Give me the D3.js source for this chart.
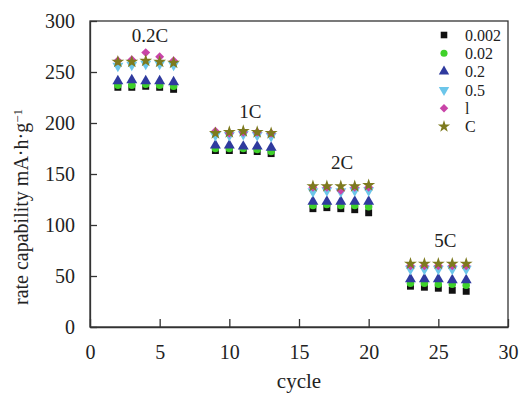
<!DOCTYPE html>
<html>
<head>
<meta charset="utf-8">
<script src="https://cdn.jsdelivr.net/npm/d3@7"></script>
<style>
  body { margin: 0; background: #fff; }
  text { font-family: "Liberation Serif", "DejaVu Serif", serif; fill: #222; }
</style>
</head>
<body>
<script>
var w = 522;
var h = 394;

// cycle numbers of each rate block
var cycles = [2, 3, 4, 5, 6, 9, 10, 11, 12, 13, 16, 17, 18, 19, 20, 23, 24, 25, 26, 27];

// series names (legend)
var seriesNames = ["0.002", "0.02", "0.2", "0.5", "l", "C"];

// capacity values, one per cycle
var s0002 = [235, 235, 236, 235, 233, 173, 173, 173, 172, 170, 116, 117, 116, 115, 112, 40, 39, 38, 36, 35];
var s002 = [237, 237, 238, 237, 236, 175, 175, 175, 174, 172, 119, 120, 119, 119, 118, 43, 43, 42, 42, 41];
var s02 = [241, 242, 241, 241, 240, 178, 178, 177, 177, 176, 123, 123, 123, 123, 123, 47, 47, 47, 46, 46];
var s05 = [256, 257, 258, 258, 257, 188, 188, 189, 188, 187, 133, 134, 133, 134, 134, 57, 57, 57, 57, 57];
var s1 = [261, 262, 269, 265, 261, 192, 190, 191, 191, 190, 137, 137, 134, 137, 137, 60, 60, 60, 60, 60];
var sC = [260, 260, 261, 260, 259, 190, 191, 192, 191, 190, 138, 138, 138, 138, 139, 62, 62, 62, 62, 62];

// block labels: text, cycle, value
var rateLabels = ["0.2C", "1C", "2C", "5C"];
var rateLabelX = [4.3, 11.5, 18.1, 25.5];
var rateLabelY = [279, 205, 155, 78];

var xTicks = [0, 5, 10, 15, 20, 25, 30];
var yTicks = [0, 50, 100, 150, 200, 250, 300];

var allSeries = [s0002, s002, s02, s05, s1, sC];
var colors = ["#111111", "#3fd12a", "#2f3a9e", "#6cc6ea", "#c944a8", "#7d7a1e"];
var shapes = [d3.symbolSquare, d3.symbolCircle, d3.symbolTriangle, d3.symbolTriangle, d3.symbolSquare, d3.symbolStar];
var sizes = [48, 44, 52, 52, 40, 52];
var rotations = [0, 0, 0, 180, 45, 0];

var xScale = d3.scaleLinear().domain([0, 30]).range([90, 508]);
var yScale = d3.scaleLinear().domain([0, 300]).range([327, 21]);

var svg = d3.select("body").append("svg")
    .attr("width", w)
    .attr("height", h);

// frame
svg.append("rect")
    .attr("x", xScale(0)).attr("y", yScale(300))
    .attr("width", xScale(30) - xScale(0))
    .attr("height", yScale(0) - yScale(300))
    .attr("fill", "none")
    .attr("stroke", "#333")
    .attr("stroke-width", 1.3);

// axes, ticks pointing inside
var xAxis = d3.axisBottom(xScale).tickValues(xTicks).tickSizeInner(-8).tickSizeOuter(0).tickPadding(14);
var yAxis = d3.axisLeft(yScale).tickValues(yTicks).tickSizeInner(-7).tickSizeOuter(0).tickPadding(14);

var gx = svg.append("g").attr("transform", "translate(0," + yScale(0) + ")").call(xAxis);
var gy = svg.append("g").attr("transform", "translate(" + xScale(0) + ",0)").call(yAxis);
[gx, gy].forEach(function(g){
    g.attr("font-family", "'Liberation Serif', serif").attr("font-size", 20);
    g.select(".domain").attr("stroke", "#333").attr("stroke-width", 1.3);
    g.selectAll(".tick line").attr("stroke", "#333").attr("stroke-width", 1.3);
    g.selectAll(".tick text").attr("fill", "#222");
});
gx.selectAll(".tick text").attr("dy", "0.9em");
gy.selectAll(".tick text").attr("dx", "-0.05em");

// axis titles
svg.append("text")
    .attr("x", (xScale(0) + xScale(30)) / 2)
    .attr("y", 388)
    .attr("text-anchor", "middle")
    .style("font-size", "21px")
    .text("cycle");

var yt = svg.append("text")
    .attr("transform", "translate(28," + 207 + ") rotate(-90)")
    .attr("text-anchor", "middle")
    .style("font-size", "20px");
yt.append("tspan").text("rate capability mA\u00b7h\u00b7g");
yt.append("tspan").attr("dy", "-0.45em").style("font-size", "13px").text("\u22121");

// markers
allSeries.forEach(function(vals, i){
    var sym = d3.symbol().type(shapes[i]).size(sizes[i]);
    svg.append("g").selectAll("path")
        .data(vals)
        .enter()
        .append("path")
        .attr("d", sym)
        .attr("transform", function(d, j){
            return "translate(" + xScale(cycles[j]) + "," + yScale(d) + ") rotate(" + rotations[i] + ")";
        })
        .attr("fill", colors[i]);
});

// rate labels
svg.selectAll("text.rate")
    .data(rateLabels)
    .enter()
    .append("text")
    .attr("class", "rate")
    .attr("x", function(d, i){ return xScale(rateLabelX[i]); })
    .attr("y", function(d, i){ return yScale(rateLabelY[i]); })
    .attr("text-anchor", "middle")
    .style("font-size", "19px")
    .text(function(d){ return d; });

// legend
var leg = svg.append("g");
seriesNames.forEach(function(name, i){
    var y = 35 + i * 18.3;
    leg.append("path")
        .attr("d", d3.symbol().type(shapes[i]).size(sizes[i] * 0.9))
        .attr("transform", "translate(444," + y + ") rotate(" + rotations[i] + ")")
        .attr("fill", colors[i]);
    leg.append("text")
        .attr("x", 465)
        .attr("y", y)
        .attr("dy", "0.35em")
        .style("font-size", "16px")
        .text(name);
});
</script>
</body>
</html>
